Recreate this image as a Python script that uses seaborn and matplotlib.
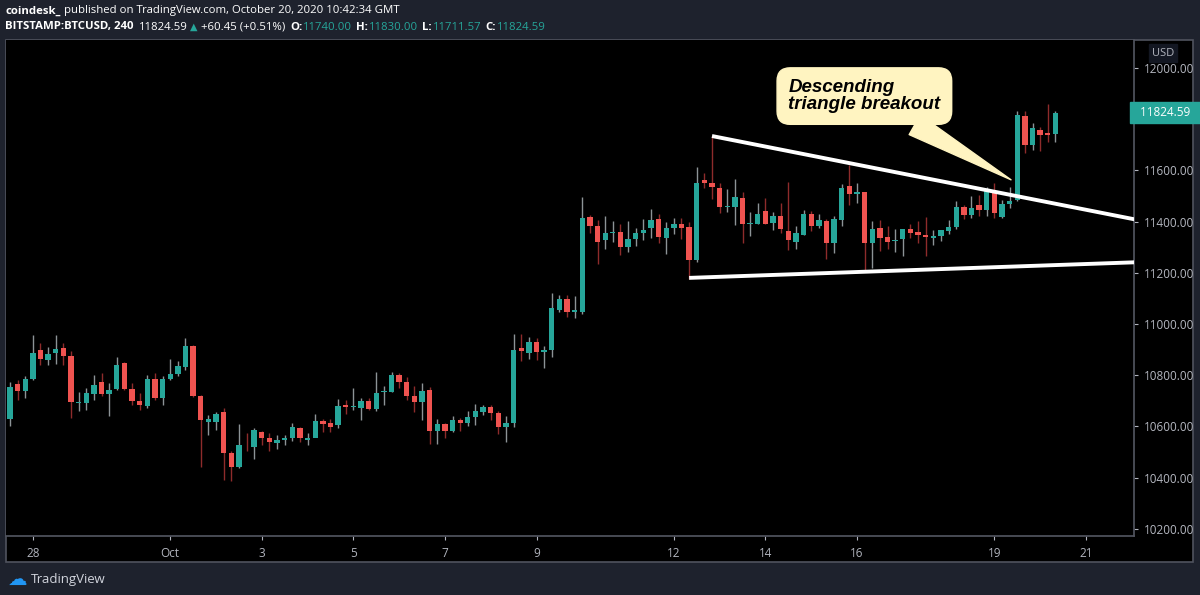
import numpy as np
import pandas as pd
import matplotlib
matplotlib.use('Agg')
import matplotlib.pyplot as plt
from matplotlib.patches import Rectangle
import seaborn as sns

sns.set_theme(style='dark', rc={'font.family': 'Open Sans'})

# BITSTAMP:BTCUSD, 4h candles
opens = [10629,10765,10740,10785,10898,10860,10887,10908,10876,10690,
         10690,10727,10772,10727,10746,10847,10746,10700,10681,10785,
         10709,10785,10805,10832,10914,10720,10617,10617,10656,10497,
         10442,10527,10519,10579,10556,10535,10547,10556,10594,10547,
         10556,10621,10614,10605,10684,10676,10672,10700,10668,10735,
         10735,10800,10773,10719,10695,10742,10582,10610,10582,10625,
         10614,10637,10656,10676,10653,10598,10614,10908,10886,10930,
         10891,10898,11055,11097,11047,11047,11418,11383,11329,11355,
         11359,11301,11332,11355,11375,11410,11336,11375,11391,11378,
         11250,11562,11550,11531,11457,11457,11492,11390,11390,11441,
         11394,11422,11364,11320,11348,11429,11383,11403,11317,11406,
         11539,11508,11515,11317,11375,11340,11324,11332,11371,11359,
         11348,11336,11343,11364,11378,11457,11426,11465,11445,11519,
         11418,11469,11484,11812,11699,11757,11745,11740]
closes = [10755,10740,10785,10886,10862,10884,10903,10873,10695,10695,
          10732,10762,10728,10743,10840,10746,10700,10685,10785,10712,
          10785,10805,10835,10914,10719,10625,10629,10649,10497,10442,
          10528,10526,10586,10555,10538,10547,10556,10598,10556,10556,
          10621,10610,10598,10680,10676,10680,10700,10668,10730,10738,
          10800,10773,10719,10695,10739,10582,10610,10582,10625,10614,
          10637,10660,10676,10653,10598,10614,10898,10895,10930,10891,
          10898,11062,11097,11047,11055,11415,11383,11320,11355,11359,
          11301,11332,11355,11368,11406,11340,11375,11391,11375,11250,
          11550,11550,11535,11457,11461,11496,11390,11393,11429,11390,
          11422,11371,11329,11355,11429,11383,11406,11317,11410,11531,
          11508,11515,11317,11371,11336,11320,11324,11371,11355,11348,
          11340,11343,11367,11379,11457,11426,11453,11445,11519,11434,
          11469,11480,11816,11699,11766,11738,11738,11824.59]
highs = [10775,10781,10797,10956,10926,10910,10956,10926,10894,10734,
         10750,10800,10809,10770,10870,10851,10770,10730,10800,10809,
         10797,10863,10856,10945,10917,10721,10645,10656,10671,10505,
         10610,10574,10592,10582,10574,10566,10566,10613,10597,10574,
         10648,10629,10629,10707,10703,10750,10710,10710,10812,10758,
         10812,10809,10793,10758,10770,10754,10629,10613,10640,10633,
         10660,10687,10684,10684,10660,10640,10961,10961,10949,10945,
         10914,11121,11113,11113,11109,11496,11426,11406,11422,11402,
         11390,11402,11375,11410,11450,11429,11399,11413,11413,11399,
         11613,11590,11734,11550,11527,11566,11515,11438,11473,11492,
         11438,11473,11555,11383,11445,11441,11429,11410,11422,11547,
         11621,11550,11515,11402,11406,11383,11371,11371,11390,11402,
         11418,11367,11367,11406,11480,11464,11499,11502,11536,11550,
         11485,11536,11831,11831,11785,11770,11859,11830]
lows = [10600,10703,10710,10780,10840,10840,10844,10840,10633,10660,
        10664,10703,10719,10640,10742,10742,10684,10664,10672,10703,
        10684,10780,10797,10821,10715,10441,10566,10585,10391,10387,
        10438,10503,10473,10527,10503,10511,10527,10543,10538,10527,
        10559,10578,10578,10594,10648,10664,10624,10664,10660,10684,
        10734,10750,10703,10656,10624,10531,10531,10554,10578,10582,
        10601,10605,10645,10624,10570,10538,10597,10856,10863,10859,
        10828,10870,11047,11027,11023,11040,11355,11234,11293,11320,
        11269,11281,11304,11328,11336,11316,11273,11351,11332,11176,
        11242,11531,11488,11434,11438,11387,11316,11343,11390,11390,
        11367,11355,11289,11293,11348,11363,11375,11253,11278,11383,
        11464,11473,11204,11218,11285,11293,11281,11266,11336,11316,
        11266,11308,11324,11351,11371,11410,11413,11422,11422,11413,
        11413,11453,11480,11668,11680,11675,11710,11711.57]

start_time = '2020-09-27 12:00'
tick_labels = ['28', 'Oct', '3', '5', '7', '9', '12', '14', '16', '19', '21']
tick_dates = ['2020-09-28', '2020-10-01', '2020-10-03', '2020-10-05', '2020-10-07', '2020-10-09',
              '2020-10-12', '2020-10-14', '2020-10-16', '2020-10-19', '2020-10-21']
price_ticks = [10200, 10400, 10600, 10800, 11000, 11200, 11400, 11600, 11800, 12000]

# triangle lines (time, price)
upper_line = (['2020-10-12 20:00', '2020-10-22 06:00'], [11734, 11402])
lower_line = (['2020-10-12 08:00', '2020-10-22 06:00'], [11180, 11242])

df = pd.DataFrame({'open': opens, 'high': highs, 'low': lows, 'close': closes})
df['time'] = pd.date_range(start_time, periods=len(df), freq='4h')
t0 = df['time'].iloc[0]
to_x = lambda t: (pd.Timestamp(t) - t0) / pd.Timedelta('4h')
df['x'] = np.arange(len(df))
df['up'] = df['close'] >= df['open']

UP, DOWN = '#26a69a', '#ef5350'
BG = '#1e222d'

fig = plt.figure(figsize=(12, 5.95), dpi=100, facecolor=BG)
W, H = 1200, 595
frame = Rectangle((6 / W, 1 - 562 / H), 1187 / W, 522 / H, transform=fig.transFigure,
                  facecolor='black', edgecolor='#50535e', lw=1.2, zorder=-5)
fig.patches.append(frame)
ax = fig.add_axes([6 / W, 1 - 536 / H, 1128 / W, 496 / H], facecolor='black')
ax.set_zorder(1)

wick_cols = np.where(df['up'], '#8c9396', '#8e2b2b')
ax.vlines(df['x'], df['low'], df['high'], colors=wick_cols, lw=1, zorder=2)
body_bottom = np.minimum(df['open'], df['close'])
body_h = np.maximum(np.abs(df['close'] - df['open']), 2.5)
ax.bar(df['x'], body_h, bottom=body_bottom, width=0.7,
       color=np.where(df['up'], UP, DOWN), zorder=3, lw=0)

for line in (upper_line, lower_line):
    ax.plot([to_x(t) for t in line[0]], line[1], color='white', lw=2.8, zorder=4, solid_capstyle='butt')

ax.annotate('Descending\ntriangle breakout', xy=(to_x('2020-10-19 08:45'), 11563),
            xytext=(to_x('2020-10-14 12:00'), 11890), ha='left', va='center',
            fontsize=13.5, fontweight='bold', fontstyle='italic', color='black',
            family='Liberation Sans', linespacing=1.0,
            bbox=dict(boxstyle='round,pad=0.6,rounding_size=0.7', fc='#fff4c1', ec='#fff4c1'),
            arrowprops=dict(arrowstyle='wedge,tail_width=1.2,shrink_factor=0.5', fc='#fff4c1',
                            ec='#fff4c1', shrinkA=0, shrinkB=0),
            zorder=6)

ax.set_xlim(-0.52, 147.3)
ax.set_ylim(10172, 12109)
ax.yaxis.tick_right()
ax.set_yticks(price_ticks)
ax.set_yticklabels([f'{p:.2f}' for p in price_ticks])
ax.set_xticks([to_x(d) for d in tick_dates])
ax.set_xticklabels(tick_labels)
ax.tick_params(axis='both', colors='#b2b5be', labelsize=8.5, length=3, width=0.8,
               direction='out', bottom=True, right=True, left=False)
ax.tick_params(axis='x', pad=5)
ax.tick_params(axis='y', pad=4)
for s in ax.spines.values():
    s.set_visible(False)
ax.spines['right'].set_visible(True)
ax.spines['right'].set_color('#50535e')
ax.spines['bottom'].set_visible(True)
ax.spines['bottom'].set_color('#50535e')
ax.grid(False)

# last price tag and currency label
last = closes[-1]
ax.text(1.0, last, f'  {last:.2f}  ', transform=ax.get_yaxis_transform(), ha='left', va='center',
        fontsize=8.5, color='white', zorder=7, clip_on=False,
        bbox=dict(boxstyle='square,pad=0.35', fc=UP, ec=UP))
fig.text(1163 / W, 1 - 53 / H, 'USD', fontsize=8, color='#b2b5be', ha='center', va='center',
         bbox=dict(boxstyle='square,pad=0.3', fc='#131722', ec='#131722'))

# header, pieces placed one after the other
renderer = fig.canvas.get_renderer()
def header_line(y, parts):
    x = 5
    for s, c, bold, gap in parts:
        fam = 'DejaVu Sans' if s == '\u25b2' else 'Open Sans'
        t = fig.text(x / W, 1 - y / H, s, fontsize=8.2 if fam == 'Open Sans' else 7, color=c,
                     ha='left', va='center', fontweight='bold' if bold else 'normal', family=fam)
        x = t.get_window_extent(renderer).x1 + gap

header_line(11, [('coindesk_', 'white', True, 4),
                 ('published on TradingView.com, October 20, 2020 10:42:34 GMT', 'white', False, 0)])
header_line(27, [('BITSTAMP:BTCUSD, 240', 'white', True, 5), ('11824.59', 'white', False, 3),
                 ('\u25b2', UP, False, 3), ('+60.45 (+0.51%)', 'white', False, 5),
                 ('O:', 'white', True, 1), ('11740.00', UP, False, 4),
                 ('H:', 'white', True, 1), ('11830.00', UP, False, 4),
                 ('L:', 'white', True, 1), ('11711.57', UP, False, 4),
                 ('C:', 'white', True, 1), ('11824.59', UP, False, 0)])

# footer logo
fig.text(8 / W, 1 - 579 / H, '\u2601', fontsize=14, color='#2196f3', ha='left', va='center',
         family='DejaVu Sans')
fig.text(31 / W, 1 - 579 / H, 'TradingView', fontsize=9.5, color='#d1d4dc', ha='left', va='center')

fig.savefig('out.png', dpi=100, facecolor=BG)
